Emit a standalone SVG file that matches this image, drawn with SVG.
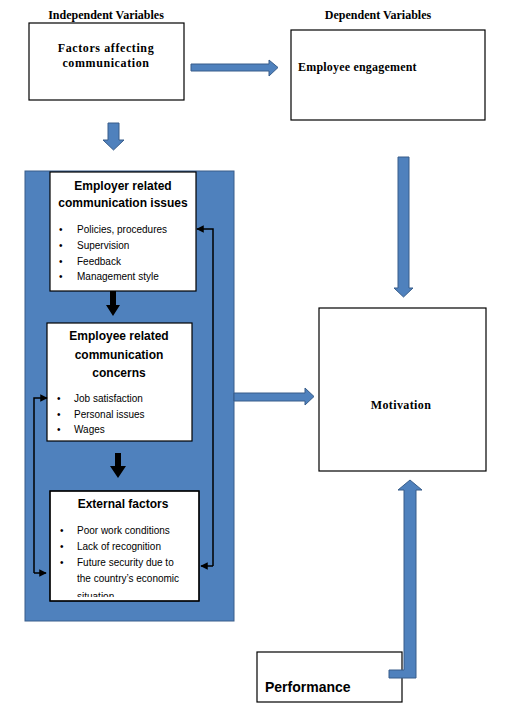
<svg xmlns="http://www.w3.org/2000/svg" width="505" height="719" viewBox="0 0 505 719">
<defs>
<style>
.box{fill:#fff;stroke:#000;stroke-width:1.2}
.hdr{font-family:"Liberation Serif",serif;font-weight:bold;font-size:12px;fill:#000}
.sans{font-family:"Liberation Sans",Arial,sans-serif;fill:#000}
.ttl{font-weight:bold;font-size:12px}
.bl{font-size:10px}
.barrow{fill:#4f81bd;stroke:#385d8a;stroke-width:1}
.karrow{fill:#000}
.fb{fill:none;stroke:#000;stroke-width:1.5}
</style>
<marker id="ah" viewBox="0 0 10 10" refX="9" refY="5" markerWidth="5" markerHeight="5" orient="auto">
<path d="M0,0 L10,5 L0,10 z" fill="#000"/>
</marker>
</defs>
<rect width="505" height="719" fill="#fff"/>

<text class="hdr" x="106" y="19" text-anchor="middle">Independent Variables</text>
<text class="hdr" x="378" y="19" text-anchor="middle">Dependent Variables</text>

<g id="factors">
<rect class="box" x="29" y="23" width="155" height="77"/>
<text class="hdr" x="106" y="52" text-anchor="middle" letter-spacing="0.6">Factors affecting</text>
<text class="hdr" x="106" y="67" text-anchor="middle" letter-spacing="0.6">communication</text>
</g>

<g id="engagement">
<rect class="box" x="291" y="30" width="194" height="90"/>
<text class="hdr" x="298" y="71" letter-spacing="0.2">Employee engagement</text>
</g>

<g id="container">
<rect x="25" y="171" width="209" height="450" fill="#4f81bd" stroke="#385d8a" stroke-width="1"/>
</g>

<g id="employer">
<rect class="box" x="50" y="172" width="146" height="119"/>
<text class="sans ttl" x="123" y="190" text-anchor="middle">Employer related</text>
<text class="sans ttl" x="123" y="207" text-anchor="middle">communication issues</text>
<g class="sans bl">
<text x="59" y="233">•</text><text x="77" y="233">Policies, procedures</text>
<text x="59" y="249">•</text><text x="77" y="249">Supervision</text>
<text x="59" y="265">•</text><text x="77" y="265">Feedback</text>
<text x="59" y="280">•</text><text x="77" y="280">Management style</text>
</g>
</g>

<g id="employee">
<rect class="box" x="47" y="323" width="145" height="118"/>
<text class="sans ttl" x="119" y="340" text-anchor="middle">Employee related</text>
<text class="sans ttl" x="119" y="359" text-anchor="middle">communication</text>
<text class="sans ttl" x="119" y="377" text-anchor="middle">concerns</text>
<g class="sans bl">
<text x="57" y="402">•</text><text x="74" y="402">Job satisfaction</text>
<text x="57" y="418">•</text><text x="74" y="418">Personal issues</text>
<text x="57" y="433">•</text><text x="74" y="433">Wages</text>
</g>
</g>

<g id="external">
<rect class="box" x="50" y="491" width="149" height="110"/>
<svg x="50" y="491" width="149" height="106" overflow="hidden">
<text class="sans ttl" x="73" y="17" text-anchor="middle">External factors</text>
<g class="sans bl">
<text x="10" y="43">•</text><text x="27" y="43">Poor work conditions</text>
<text x="10" y="59">•</text><text x="27" y="59">Lack of recognition</text>
<text x="10" y="75">•</text><text x="27" y="75">Future security due to</text>
<text x="27" y="91">the country’s economic</text>
<text x="27" y="108.5">situation</text>
</g>
</svg>
<rect x="50" y="491" width="149" height="110" fill="none" stroke="#000" stroke-width="1.2"/>
</g>

<g id="motivation">
<rect class="box" x="319" y="308" width="167" height="163"/>
<text class="hdr" x="401" y="409" text-anchor="middle" letter-spacing="0.4">Motivation</text>
</g>

<g id="performance">
<rect class="box" x="257" y="652" width="145" height="50"/>
<text class="sans" x="265" y="692" font-size="14" font-weight="bold">Performance</text>
</g>

<g id="connectors">
<path class="barrow" d="M191,64 L269,64 L269,60 L278,67.5 L269,76 L269,71 L191,71 z"/>
<path class="barrow" d="M108,123 L119,123 L119,140 L124,140 L113.5,150 L103,140 L108,140 z"/>
<path class="barrow" d="M398,157 L409,157 L409,288 L413,288 L403.5,297 L394,288 L398,288 z"/>
<path class="barrow" d="M234,393 L305,393 L305,388 L314,396.5 L305,405 L305,401 L234,401 z"/>
<path class="barrow" d="M389,670 L404,670 L404,490 L398,490 L410,480 L422,490 L416,490 L416,678 L389,678 z"/>
<path class="karrow" d="M110,291 L116,291 L116,305 L120,305 L113,316 L106,305 L110,305 z"/>
<path class="karrow" d="M115,453 L121,453 L121,466 L126,466 L118,478 L110,466 L115,466 z"/>
<polyline class="fb" points="213,566 213,229 197,229" marker-end="url(#ah)"/>
<polyline class="fb" points="213,566 201,566" marker-end="url(#ah)"/>
<polyline class="fb" points="34,573 34,398 47,398" marker-end="url(#ah)"/>
<polyline class="fb" points="34,573 46,573" marker-end="url(#ah)"/>
</g>
</svg>
